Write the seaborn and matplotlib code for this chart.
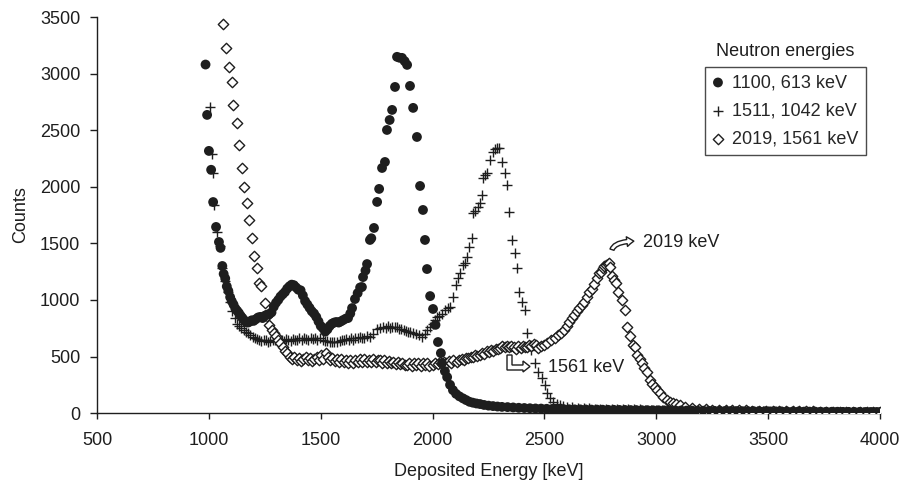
import matplotlib
matplotlib.use("Agg")
import matplotlib.pyplot as plt
from matplotlib.patches import Polygon
import pandas as pd
import seaborn as sns


# series labels (legend)
labels = ["1100, 613 keV", "1511, 1042 keV", "2019, 1561 keV"]

# filled circles: 1100, 613 keV
dot_energy = [985, 992, 1000, 1010, 1019, 1032, 1045, 1052, 1060, 1066, 1073, 1080, 1087, 1095, 1102,
              1110, 1118, 1126, 1134, 1142, 1150, 1158, 1166, 1175, 1184, 1192, 1200, 1210, 1220, 1230,
              1240, 1250, 1260, 1270, 1280, 1290, 1300, 1310, 1320, 1330, 1340, 1350, 1360, 1370, 1380,
              1390, 1400, 1410, 1420, 1430, 1440, 1450, 1460, 1470, 1480, 1490, 1500, 1510, 1520, 1530,
              1540, 1550, 1560, 1570, 1580, 1590, 1600, 1612, 1622, 1632, 1640, 1653, 1665, 1676, 1684,
              1689, 1700, 1707, 1720, 1726, 1738, 1752, 1761, 1774, 1787, 1796, 1808, 1819, 1832, 1841,
              1852, 1863, 1875, 1886, 1899, 1913, 1930, 1944, 1957, 1966, 1975, 1989, 2002, 2013, 2024,
              2037, 2042, 2055, 2065, 2078, 2091, 2105, 2120, 2136, 2150, 2165, 2180, 2196, 2212, 2230,
              2250, 2270, 2290, 2310, 2335, 2360, 2385, 2410, 2435, 2460, 2485, 2510, 2535, 2560, 2585,
              2610, 2635, 2660, 2685, 2710, 2735, 2760, 2785, 2810, 2835, 2860, 2885, 2910, 2935, 2960,
              2985, 3010, 3035, 3060, 3085, 3110, 3135, 3160, 3185, 3210, 3235, 3260, 3285, 3310, 3335,
              3360, 3385, 3410, 3435, 3460, 3485, 3510, 3535, 3560, 3585, 3610, 3635, 3660, 3685, 3710,
              3735, 3760, 3785, 3810, 3835, 3860, 3885, 3910, 3935, 3960, 3985, 4000]
dot_counts = [3080, 2635, 2317, 2150, 1865, 1645, 1512, 1460, 1300, 1230, 1190, 1120, 1080, 1025, 990,
              960, 925, 905, 885, 860, 840, 820, 805, 800, 810, 820, 815, 830, 845, 850,
              840, 860, 870, 875, 890, 940, 975, 1000, 1030, 1050, 1070, 1100, 1120, 1135, 1130,
              1110, 1090, 1085, 1040, 990, 960, 930, 900, 880, 850, 810, 770, 750, 720, 740,
              770, 790, 800, 805, 800, 810, 822, 835, 840, 880, 928, 1008, 1060, 1110, 1114,
              1202, 1260, 1317, 1530, 1545, 1636, 1866, 1981, 2166, 2219, 2502, 2590, 2679, 2882, 3148,
              3140, 3139, 3110, 3077, 2891, 2697, 2440, 2007, 1795, 1530, 1273, 1034, 920, 780, 628,
              530, 442, 370, 318, 250, 203, 170, 148, 130, 115, 100, 92, 85, 80, 72,
              66, 62, 58, 55, 53, 50, 47, 45, 43, 41, 40, 38, 37, 36, 35,
              34, 33, 33, 32, 31, 31, 30, 29, 29, 28, 28, 27, 27, 26, 26,
              25, 25, 24, 24, 23, 23, 22, 22, 21, 21, 20, 20, 19, 19, 18,
              18, 17, 17, 17, 16, 16, 15, 15, 15, 14, 14, 14, 13, 13, 13,
              12, 12, 12, 12, 11, 11, 11, 11, 10, 10, 10, 9]

# crosses: 1511, 1042 keV
plus_energy = [1005, 1012, 1018, 1025, 1038, 1048, 1060, 1072, 1084, 1095, 1105, 1115, 1125, 1135, 1145,
               1155, 1165, 1175, 1185, 1195, 1205, 1215, 1225, 1235, 1245, 1255, 1265, 1275, 1285, 1295,
               1305, 1315, 1325, 1335, 1345, 1355, 1365, 1375, 1385, 1395, 1405, 1415, 1425, 1435, 1445,
               1455, 1465, 1475, 1485, 1497, 1510, 1520, 1530, 1540, 1550, 1560, 1573, 1585, 1595, 1605,
               1615, 1625, 1635, 1645, 1655, 1665, 1675, 1685, 1695, 1705, 1720, 1735, 1750, 1765, 1780,
               1790, 1800, 1810, 1820, 1830, 1841, 1850, 1860, 1870, 1880, 1890, 1900, 1913, 1925, 1940,
               1953, 1965, 1975, 1989, 2000, 2010, 2020, 2030, 2042, 2056, 2068, 2078, 2091, 2105, 2114,
               2123, 2136, 2145, 2154, 2163, 2176, 2181, 2190, 2203, 2213, 2221, 2226, 2235, 2243, 2257,
               2270, 2280, 2288, 2296, 2310, 2324, 2333, 2342, 2355, 2369, 2378, 2387, 2400, 2413, 2422,
               2440, 2458, 2471, 2489, 2503, 2512, 2525, 2539, 2555, 2570, 2585, 2600, 2625, 2650, 2675,
               2700, 2725, 2750, 2775, 2800, 2825, 2850, 2875, 2900, 2925, 2950, 2975, 3000, 3025, 3050,
               3075, 3100, 3125, 3150, 3175, 3200, 3225, 3250, 3275, 3300, 3325, 3350, 3375, 3400, 3425,
               3450, 3475, 3500, 3525, 3550, 3575, 3600, 3625, 3650, 3675, 3700, 3725, 3750, 3775, 3800,
               3825, 3850, 3875, 3900, 3925, 3950, 3975, 4000]
plus_counts = [2705, 2290, 2120, 1840, 1600, 1480, 1280, 1170, 1070, 980, 900, 840, 790, 770, 750,
               735, 720, 705, 690, 672, 660, 655, 645, 640, 650, 645, 630, 640, 650, 645,
               640, 645, 650, 640, 655, 650, 640, 655, 645, 645, 660, 650, 665, 655, 650,
               660, 655, 660, 650, 663, 650, 640, 635, 625, 630, 625, 628, 640, 650, 645,
               655, 650, 660, 645, 660, 665, 670, 660, 665, 680, 672, 700, 740, 752, 765,
               750, 770, 755, 765, 760, 760, 745, 740, 730, 725, 715, 720, 707, 700, 690,
               672, 700, 730, 760, 790, 820, 850, 860, 880, 911, 925, 937, 1026, 1132, 1194,
               1238, 1309, 1330, 1379, 1468, 1547, 1768, 1790, 1821, 1860, 1927, 2078, 2100, 2122, 2237,
               2308, 2330, 2343, 2340, 2219, 2122, 2016, 1777, 1530, 1414, 1282, 1070, 981, 911, 707,
               560, 442, 363, 310, 248, 177, 133, 97, 80, 71, 62, 55, 50, 46, 44,
               42, 40, 39, 38, 37, 36, 35, 34, 33, 32, 31, 30, 29, 28, 27,
               26, 25, 24, 24, 23, 22, 21, 21, 20, 19, 19, 18, 18, 17, 17,
               16, 16, 15, 15, 15, 14, 14, 14, 13, 13, 13, 12, 12, 12, 12,
               11, 11, 11, 11, 10, 10, 10, 10]

# open diamonds: 2019, 1561 keV
diam_energy = [1063, 1077, 1090, 1103, 1108, 1126, 1135, 1148, 1157, 1171, 1179, 1193, 1202, 1215, 1225,
               1231, 1251, 1260, 1269, 1280, 1291, 1300, 1310, 1318, 1330, 1340, 1349, 1362, 1372, 1382,
               1392, 1402, 1412, 1422, 1432, 1442, 1452, 1462, 1472, 1482, 1492, 1502, 1512, 1522, 1532,
               1542, 1552, 1562, 1572, 1582, 1592, 1602, 1612, 1622, 1632, 1645, 1655, 1665, 1675, 1685,
               1695, 1705, 1715, 1725, 1735, 1745, 1755, 1765, 1775, 1785, 1795, 1805, 1815, 1825, 1835,
               1845, 1855, 1865, 1875, 1886, 1896, 1906, 1916, 1926, 1936, 1946, 1956, 1966, 1976, 1986,
               2002, 2012, 2022, 2032, 2042, 2052, 2062, 2072, 2082, 2092, 2109, 2120, 2130, 2140, 2150,
               2160, 2170, 2180, 2190, 2200, 2212, 2222, 2232, 2242, 2252, 2262, 2272, 2282, 2292, 2301,
               2312, 2322, 2332, 2342, 2352, 2364, 2374, 2384, 2394, 2404, 2414, 2422, 2432, 2442, 2452,
               2462, 2471, 2485, 2498, 2512, 2530, 2545, 2561, 2575, 2588, 2600, 2610, 2622, 2633, 2645,
               2655, 2667, 2677, 2688, 2699, 2711, 2722, 2733, 2744, 2752, 2761, 2768, 2775, 2782, 2789,
               2795, 2802, 2810, 2820, 2829, 2847, 2860, 2869, 2883, 2896, 2905, 2914, 2925, 2936, 2947,
               2958, 2972, 2983, 2994, 3005, 3017, 3032, 3048, 3062, 3075, 3090, 3106, 3130, 3160, 3190,
               3220, 3250, 3280, 3310, 3340, 3370, 3400, 3430, 3460, 3490, 3520, 3550, 3580, 3610, 3640,
               3670, 3700, 3730, 3760, 3790, 3820, 3850, 3880, 3910, 3940, 3970, 4000]
diam_counts = [3439, 3227, 3059, 2927, 2723, 2564, 2370, 2166, 1998, 1857, 1706, 1547, 1388, 1282, 1150,
               1120, 972, 860, 780, 730, 707, 680, 650, 619, 580, 550, 530, 495, 480, 500,
               470, 490, 460, 480, 500, 470, 490, 460, 480, 500, 470, 510, 480, 530, 500,
               470, 490, 460, 480, 455, 475, 450, 470, 445, 465, 442, 470, 450, 475, 455,
               480, 455, 470, 450, 475, 450, 470, 469, 445, 465, 440, 460, 440, 455, 430,
               450, 430, 445, 425, 424, 440, 420, 440, 425, 445, 420, 440, 425, 445, 420,
               424, 440, 430, 450, 435, 455, 440, 460, 445, 465, 451, 470, 480, 470, 490,
               485, 500, 495, 510, 505, 513, 530, 520, 545, 540, 555, 550, 570, 565, 575,
               590, 580, 595, 580, 590, 584, 570, 590, 575, 595, 580, 584, 600, 590, 610,
               600, 575, 590, 601, 620, 645, 660, 690, 710, 734, 770, 805, 840, 866, 900,
               928, 955, 981, 1030, 1070, 1100, 1141, 1190, 1238, 1250, 1282, 1300, 1309, 1320, 1326,
               1290, 1211, 1180, 1149, 1070, 999, 911, 760, 680, 601, 584, 513, 480, 442, 400,
               363, 292, 260, 230, 200, 177, 140, 115, 100, 88, 78, 71, 55, 45, 38,
               34, 31, 29, 27, 25, 24, 23, 22, 21, 20, 19, 18, 17, 16, 16,
               15, 15, 14, 14, 13, 13, 12, 12, 11, 11, 11, 10]

# build the tables
dots = pd.DataFrame({"energy": dot_energy, "counts": dot_counts})
plus = pd.DataFrame({"energy": plus_energy, "counts": plus_counts})
diam = pd.DataFrame({"energy": diam_energy, "counts": diam_counts})

sns.set_style("white")
plt.rcParams["font.family"] = ["Liberation Sans", "DejaVu Sans"]
fs = 13
ink = "#1e1e1e"

W, H = 901, 486
fig = plt.figure(figsize=(W / 100, H / 100), dpi=100)
ax = fig.add_axes([0.1077, 0.150, 0.869, 0.815])

# draw the three spectra
sns.scatterplot(x="energy", y="counts", data=plus, marker="+", color=ink, s=55,
                linewidth=1.0, ax=ax, label=labels[1], zorder=2)
sns.scatterplot(x="energy", y="counts", data=diam, marker="D", facecolor="white", edgecolor=ink,
                s=28, linewidth=1.0, ax=ax, label=labels[2], zorder=3)
sns.scatterplot(x="energy", y="counts", data=dots, marker="o", color=ink, edgecolor="none",
                s=50, ax=ax, label=labels[0], zorder=4)

# axes
ax.set_xlim(500, 4000)
ax.set_ylim(0, 3500)
ax.set_xticks(range(500, 4001, 500))
ax.set_yticks(range(0, 3501, 500))
ax.set_xlabel("Deposited Energy [keV]", fontsize=fs, labelpad=10, color=ink)
ax.set_ylabel("Counts", fontsize=fs, labelpad=8, color=ink)
ax.tick_params(axis="both", direction="out", width=1, color=ink,
               labelsize=fs, labelcolor=ink)
ax.tick_params(axis="x", bottom=True, length=4.5, pad=9)
ax.tick_params(axis="y", left=True, length=5, pad=7)
sns.despine(ax=ax)
for side in ["left", "bottom"]:
    ax.spines[side].set_color(ink)
    ax.spines[side].set_linewidth(1.0)

# legend with title placed above the box
handles, labs = ax.get_legend_handles_labels()
order = [labs.index(l) for l in labels]
leg = ax.legend([handles[i] for i in order], [labs[i] for i in order],
                loc="upper right", bbox_to_anchor=(866 / W, 1 - 67 / H),
                bbox_transform=fig.transFigure, frameon=True, fancybox=False,
                edgecolor=ink, handlelength=0.6, handletextpad=0.5,
                labelspacing=0.62, borderpad=0.4, borderaxespad=0, fontsize=fs)
leg.get_frame().set_linewidth(1.0)
fig.text(785 / W, 1 - 51 / H, "Neutron energies", ha="center", va="center",
         fontsize=fs, color=ink)

# curved hollow arrow for the 2019 keV peak
ax.annotate("", xy=(2912, 1520), xytext=(2800, 1420),
            arrowprops=dict(arrowstyle="simple,head_length=0.5,head_width=0.7,tail_width=0.3",
                            fc="white", ec=ink, lw=1,
                            connectionstyle="angle3,angleA=90,angleB=0"))
ax.text(2940, 1510, "2019 keV", ha="left", va="center", fontsize=fs, color=ink)

# L-shaped hollow arrow for the 1561 keV edge (pixel outline)
l_arrow = [(507, 355), (512, 355), (512, 365), (523, 365), (523, 361), (530, 366.5),
           (523, 372), (523, 370), (507, 370)]
fig.patches.append(Polygon([(x / W, 1 - y / H) for x, y in l_arrow], closed=True,
                           transform=fig.transFigure, facecolor="white",
                           edgecolor=ink, linewidth=1, zorder=5))
ax.text(2515, 400, "1561 keV", ha="left", va="center", fontsize=fs, color=ink)

plt.savefig("out.png", dpi=100)
